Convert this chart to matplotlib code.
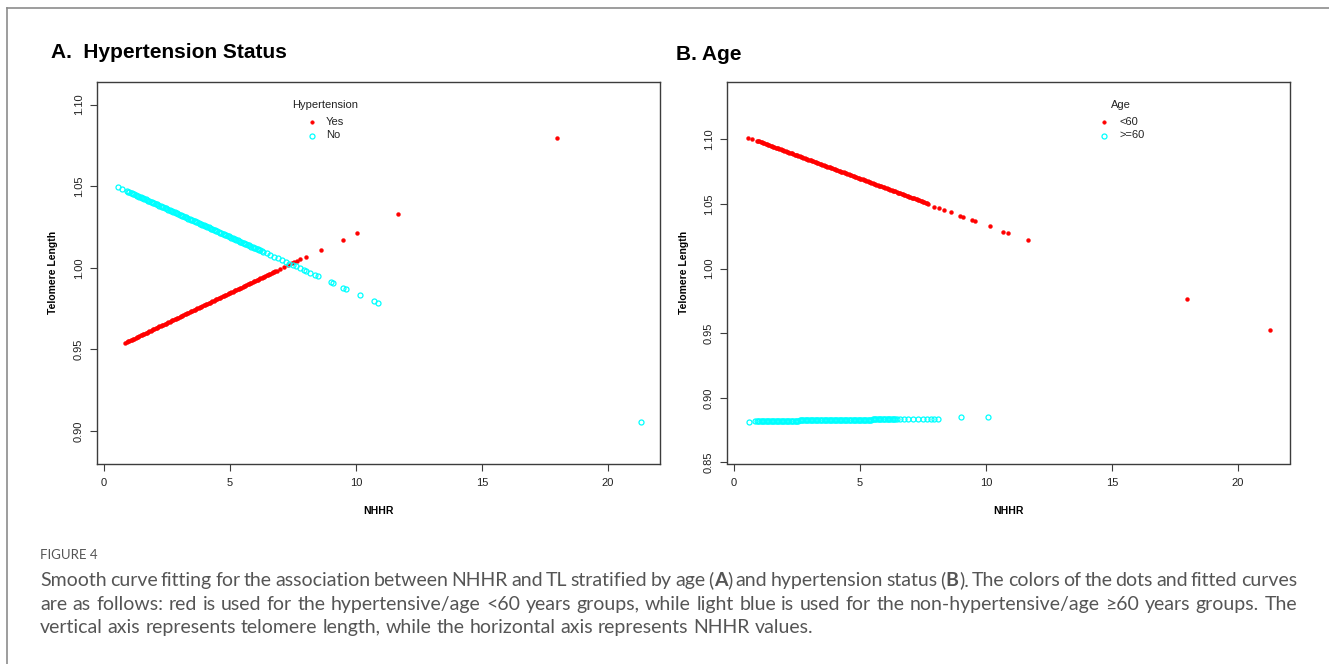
import matplotlib
matplotlib.use('Agg')
import matplotlib.pyplot as plt
from matplotlib.lines import Line2D

plt.rcParams['font.family'] = ['Liberation Sans', 'DejaVu Sans']

RED = '#ff0000'
CYAN = '#00ffff'
AXIS_COLOR = '#3c3c3c'
CAP_COLOR = '#555555'
CAP_FAMILY = ['Lato', 'DejaVu Sans']

# Panel A, hypertension = Yes (red dots); the dense run is listed twice over (offset grid)
hyp_yes_x = [0.85, 0.95, 1.05, 1.15, 1.25, 1.35, 1.45, 1.55, 1.65, 1.75,
             1.85, 1.95, 2.05, 2.15, 2.25, 2.35, 2.45, 2.55, 2.65, 2.75,
             2.85, 2.95, 3.05, 3.15, 3.25, 3.35, 3.45, 3.55, 3.65, 3.75,
             3.85, 3.95, 4.05, 4.15, 4.25, 4.35, 4.45, 4.55, 4.65, 4.75,
             4.85, 4.95, 5.05, 5.15, 5.25, 5.35, 5.45, 5.55, 5.65, 5.75,
             5.85, 5.95, 6.05, 6.15, 6.25, 6.35, 6.45, 6.55, 6.65, 6.75,
             6.85, 7.0, 7.15, 7.3, 7.45, 7.55, 7.65, 7.78, 8.02, 8.6,
             9.49, 10.04, 11.65, 17.99,
             0.9, 1.0, 1.1, 1.2, 1.3, 1.4, 1.5, 1.6, 1.7, 1.8,
             1.9, 2.0, 2.1, 2.2, 2.3, 2.4, 2.5, 2.6, 2.7, 2.8,
             2.9, 3.0, 3.1, 3.2, 3.3, 3.4, 3.5, 3.6, 3.7, 3.8,
             3.9, 4.0, 4.1, 4.2, 4.3, 4.4, 4.5, 4.6, 4.7, 4.8,
             4.9, 5.0, 5.1, 5.2, 5.3, 5.4, 5.5, 5.6, 5.7, 5.8,
             5.9, 6.0, 6.1, 6.2, 6.3, 6.4, 6.5, 6.6, 6.7, 6.8]
hyp_yes_y = [0.9540, 0.9548, 0.9555, 0.9563, 0.9570, 0.9577, 0.9585, 0.9592, 0.9599, 0.9607,
             0.9614, 0.9622, 0.9629, 0.9636, 0.9644, 0.9651, 0.9658, 0.9666, 0.9673, 0.9680,
             0.9688, 0.9695, 0.9703, 0.9710, 0.9717, 0.9725, 0.9732, 0.9739, 0.9747, 0.9754,
             0.9762, 0.9769, 0.9776, 0.9784, 0.9791, 0.9798, 0.9806, 0.9813, 0.9820, 0.9828,
             0.9835, 0.9843, 0.9850, 0.9857, 0.9865, 0.9872, 0.9879, 0.9887, 0.9894, 0.9902,
             0.9909, 0.9916, 0.9924, 0.9931, 0.9938, 0.9946, 0.9953, 0.9960, 0.9968, 0.9975,
             0.9983, 0.9994, 1.0005, 1.0016, 1.0027, 1.0034, 1.0042, 1.0051, 1.0067, 1.0108,
             1.0169, 1.0212, 1.0329, 1.0794,
             0.9544, 0.9552, 0.9559, 0.9566, 0.9574, 0.9581, 0.9588, 0.9596, 0.9603, 0.9610,
             0.9618, 0.9625, 0.9633, 0.9640, 0.9647, 0.9655, 0.9662, 0.9669, 0.9677, 0.9684,
             0.9692, 0.9699, 0.9706, 0.9714, 0.9721, 0.9728, 0.9736, 0.9743, 0.9751, 0.9758,
             0.9765, 0.9773, 0.9780, 0.9787, 0.9795, 0.9802, 0.9810, 0.9817, 0.9824, 0.9832,
             0.9839, 0.9846, 0.9854, 0.9861, 0.9868, 0.9876, 0.9883, 0.9891, 0.9898, 0.9905,
             0.9913, 0.9920, 0.9927, 0.9935, 0.9942, 0.9950, 0.9957, 0.9964, 0.9972, 0.9979]

# Panel A, hypertension = No (cyan circles)
hyp_no_x = [0.56, 0.72, 0.9, 1.0, 1.1, 1.2, 1.3, 1.4, 1.5, 1.6,
            1.7, 1.8, 1.9, 2.0, 2.1, 2.2, 2.3, 2.4, 2.5, 2.6,
            2.7, 2.8, 2.9, 3.0, 3.1, 3.2, 3.3, 3.4, 3.5, 3.6,
            3.7, 3.8, 3.9, 4.0, 4.1, 4.2, 4.3, 4.4, 4.5, 4.6,
            4.7, 4.8, 4.9, 5.0, 5.1, 5.2, 5.3, 5.4, 5.5, 5.6,
            5.7, 5.8, 5.9, 6.0, 6.1, 6.2, 6.3, 6.45, 6.6, 6.75,
            6.9, 7.05, 7.2, 7.35, 7.5, 7.62, 7.76, 7.92, 8.03, 8.16,
            8.39, 8.5, 8.99, 9.1, 9.49, 9.6, 10.16, 10.71, 10.87, 21.29,
            0.95, 1.05, 1.15, 1.25, 1.35, 1.45, 1.55, 1.65, 1.75, 1.85,
            1.95, 2.05, 2.15, 2.25, 2.35, 2.45, 2.55, 2.65, 2.75, 2.85,
            2.95, 3.05, 3.15, 3.25, 3.35, 3.45, 3.55, 3.65, 3.75, 3.85,
            3.95, 4.05, 4.15, 4.25, 4.35, 4.45, 4.55, 4.65, 4.75, 4.85,
            4.95, 5.05, 5.15, 5.25, 5.35, 5.45, 5.55, 5.65, 5.75, 5.85,
            5.95, 6.05, 6.15, 6.25]
hyp_no_y = [1.0496, 1.0484, 1.0470, 1.0463, 1.0457, 1.0450, 1.0443, 1.0436, 1.0429, 1.0422,
            1.0415, 1.0408, 1.0401, 1.0395, 1.0388, 1.0381, 1.0374, 1.0367, 1.0360, 1.0353,
            1.0346, 1.0340, 1.0333, 1.0326, 1.0319, 1.0312, 1.0305, 1.0298, 1.0291, 1.0285,
            1.0278, 1.0271, 1.0264, 1.0257, 1.0250, 1.0243, 1.0236, 1.0230, 1.0223, 1.0216,
            1.0209, 1.0202, 1.0195, 1.0188, 1.0181, 1.0174, 1.0168, 1.0161, 1.0154, 1.0147,
            1.0140, 1.0133, 1.0126, 1.0119, 1.0113, 1.0106, 1.0099, 1.0088, 1.0078, 1.0068,
            1.0058, 1.0047, 1.0037, 1.0026, 1.0016, 1.0008, 0.9998, 0.9987, 0.9980, 0.9971,
            0.9955, 0.9947, 0.9914, 0.9906, 0.9879, 0.9872, 0.9833, 0.9795, 0.9784, 0.9053,
            1.0467, 1.0460, 1.0453, 1.0446, 1.0439, 1.0432, 1.0426, 1.0419, 1.0412, 1.0405,
            1.0398, 1.0391, 1.0384, 1.0377, 1.0370, 1.0364, 1.0357, 1.0350, 1.0343, 1.0336,
            1.0329, 1.0322, 1.0315, 1.0309, 1.0302, 1.0295, 1.0288, 1.0281, 1.0274, 1.0267,
            1.0260, 1.0254, 1.0247, 1.0240, 1.0233, 1.0226, 1.0219, 1.0212, 1.0205, 1.0199,
            1.0192, 1.0185, 1.0178, 1.0171, 1.0164, 1.0157, 1.0150, 1.0143, 1.0137, 1.0130,
            1.0123, 1.0116, 1.0109, 1.0102]

# Panel B, age < 60 (red dots)
age_lt60_x = [0.55, 0.73, 0.9, 1.0, 1.1, 1.2, 1.3, 1.4, 1.5, 1.6,
              1.7, 1.8, 1.9, 2.0, 2.1, 2.2, 2.3, 2.4, 2.5, 2.6,
              2.7, 2.8, 2.9, 3.0, 3.1, 3.2, 3.3, 3.4, 3.5, 3.6,
              3.7, 3.8, 3.9, 4.0, 4.1, 4.2, 4.3, 4.4, 4.5, 4.6,
              4.7, 4.8, 4.9, 5.0, 5.1, 5.2, 5.3, 5.4, 5.5, 5.6,
              5.7, 5.8, 5.9, 6.0, 6.1, 6.2, 6.3, 6.4, 6.5, 6.6,
              6.7, 6.8, 6.9, 7.0, 7.1, 7.2, 7.3, 7.4, 7.5, 7.6,
              7.7, 7.95, 8.15, 8.35, 8.59, 8.95, 9.1, 9.45, 9.58, 10.15,
              10.68, 10.87, 11.65, 17.97, 21.25,
              0.95, 1.05, 1.15, 1.25, 1.35, 1.45, 1.55, 1.65, 1.75, 1.85,
              1.95, 2.05, 2.15, 2.25, 2.35, 2.45, 2.55, 2.65, 2.75, 2.85,
              2.95, 3.05, 3.15, 3.25, 3.35, 3.45, 3.55, 3.65, 3.75, 3.85,
              3.95, 4.05, 4.15, 4.25, 4.35, 4.45, 4.55, 4.65, 4.75, 4.85,
              4.95, 5.05, 5.15, 5.25, 5.35, 5.45, 5.55, 5.65, 5.75, 5.85,
              5.95, 6.05, 6.15, 6.25, 6.35, 6.45, 6.55, 6.65, 6.75, 6.85,
              6.95, 7.05, 7.15, 7.25, 7.35, 7.45, 7.55, 7.65]
age_lt60_y = [1.1013, 1.1000, 1.0990, 1.0983, 1.0976, 1.0969, 1.0961, 1.0954, 1.0947, 1.0940,
              1.0933, 1.0925, 1.0918, 1.0911, 1.0904, 1.0897, 1.0890, 1.0882, 1.0875, 1.0868,
              1.0861, 1.0854, 1.0847, 1.0839, 1.0832, 1.0825, 1.0818, 1.0811, 1.0804, 1.0796,
              1.0789, 1.0782, 1.0775, 1.0768, 1.0761, 1.0753, 1.0746, 1.0739, 1.0732, 1.0725,
              1.0718, 1.0710, 1.0703, 1.0696, 1.0689, 1.0682, 1.0675, 1.0667, 1.0660, 1.0653,
              1.0646, 1.0639, 1.0632, 1.0624, 1.0617, 1.0610, 1.0603, 1.0596, 1.0588, 1.0581,
              1.0574, 1.0567, 1.0560, 1.0553, 1.0545, 1.0538, 1.0531, 1.0524, 1.0517, 1.0510,
              1.0502, 1.0477, 1.0472, 1.0451, 1.0438, 1.0407, 1.0400, 1.0374, 1.0366, 1.0327,
              1.0284, 1.0276, 1.0219, 0.9763, 0.9528,
              1.0986, 1.0979, 1.0972, 1.0965, 1.0958, 1.0951, 1.0943, 1.0936, 1.0929, 1.0922,
              1.0915, 1.0908, 1.0900, 1.0893, 1.0886, 1.0879, 1.0872, 1.0865, 1.0857, 1.0850,
              1.0843, 1.0836, 1.0829, 1.0822, 1.0814, 1.0807, 1.0800, 1.0793, 1.0786, 1.0779,
              1.0771, 1.0764, 1.0757, 1.0750, 1.0743, 1.0736, 1.0728, 1.0721, 1.0714, 1.0707,
              1.0700, 1.0693, 1.0685, 1.0678, 1.0671, 1.0664, 1.0657, 1.0650, 1.0642, 1.0635,
              1.0628, 1.0621, 1.0614, 1.0607, 1.0599, 1.0592, 1.0585, 1.0578, 1.0571, 1.0563,
              1.0556, 1.0549, 1.0542, 1.0535, 1.0528, 1.0520, 1.0513, 1.0506]

# Panel B, age >= 60 (cyan circles)
age_ge60_x = [0.58, 0.85, 0.95, 1.05, 1.15, 1.25, 1.35, 1.45, 1.55, 1.65,
              1.75, 1.85, 1.95, 2.05, 2.15, 2.25, 2.35, 2.45, 2.55, 2.65,
              2.75, 2.85, 2.95, 3.05, 3.15, 3.25, 3.35, 3.45, 3.55, 3.65,
              3.75, 3.85, 3.95, 4.05, 4.15, 4.25, 4.35, 4.45, 4.55, 4.65,
              4.75, 4.85, 4.95, 5.05, 5.15, 5.25, 5.35, 5.45, 5.55, 5.65,
              5.75, 5.85, 5.95, 6.05, 6.15, 6.25, 6.35, 6.45, 6.6, 6.75,
              6.9, 7.1, 7.3, 7.5, 7.65, 7.8, 7.95, 8.1, 8.99, 10.07,
              0.9, 1.0, 1.1, 1.2, 1.3, 1.4, 1.5, 1.6, 1.7, 1.8,
              1.9, 2.0, 2.1, 2.2, 2.3, 2.4, 2.5, 2.6, 2.7, 2.8,
              2.9, 3.0, 3.1, 3.2, 3.3, 3.4, 3.5, 3.6, 3.7, 3.8,
              3.9, 4.0, 4.1, 4.2, 4.3, 4.4, 4.5, 4.6, 4.7, 4.8,
              4.9, 5.0, 5.1, 5.2, 5.3, 5.4, 5.5, 5.6, 5.7, 5.8,
              5.9, 6.0, 6.1, 6.2, 6.3, 6.4]
age_ge60_y = [0.8814, 0.8822, 0.8822, 0.8822, 0.8822, 0.8822, 0.8822, 0.8822, 0.8822, 0.8822,
              0.8823, 0.8823, 0.8823, 0.8823, 0.8823, 0.8823, 0.8823, 0.8823, 0.8823, 0.8826,
              0.8826, 0.8826, 0.8826, 0.8826, 0.8826, 0.8826, 0.8826, 0.8826, 0.8826, 0.8827,
              0.8827, 0.8827, 0.8827, 0.8827, 0.8827, 0.8827, 0.8827, 0.8827, 0.8831, 0.8831,
              0.8831, 0.8831, 0.8831, 0.8831, 0.8831, 0.8831, 0.8831, 0.8831, 0.8833, 0.8833,
              0.8833, 0.8833, 0.8833, 0.8833, 0.8833, 0.8833, 0.8833, 0.8833, 0.8838, 0.8838,
              0.8839, 0.8839, 0.8839, 0.8840, 0.8840, 0.8840, 0.8840, 0.8840, 0.8848, 0.8848,
              0.8822, 0.8822, 0.8822, 0.8822, 0.8822, 0.8822, 0.8822, 0.8822, 0.8823, 0.8823,
              0.8823, 0.8823, 0.8823, 0.8823, 0.8823, 0.8823, 0.8823, 0.8826, 0.8826, 0.8826,
              0.8826, 0.8826, 0.8826, 0.8826, 0.8826, 0.8826, 0.8826, 0.8826, 0.8827, 0.8827,
              0.8827, 0.8827, 0.8827, 0.8827, 0.8827, 0.8827, 0.8831, 0.8831, 0.8831, 0.8831,
              0.8831, 0.8831, 0.8831, 0.8831, 0.8831, 0.8831, 0.8833, 0.8833, 0.8833, 0.8833,
              0.8833, 0.8833, 0.8833, 0.8833, 0.8833, 0.8833]

x_ticks = [0, 5, 10, 15, 20]
a_y_ticks = [0.90, 0.95, 1.00, 1.05, 1.10]
b_y_ticks = [0.85, 0.90, 0.95, 1.00, 1.05, 1.10]
x_lim = (-0.28, 22.06)
a_y_lim = (0.880, 1.1139)
b_y_lim = (0.8492, 1.1443)

title_a = 'A.  Hypertension Status'
title_b = 'B. Age'
legend_a = ('Hypertension', 'Yes', 'No')
legend_b = ('Age', '<60', '>=60')

caption_head = 'FIGURE 4'
caption_lines = [
    'Smooth curve fitting for the association between NHHR and TL stratified by age (A) and hypertension status (B). The colors of the dots and fitted curves',
    'are as follows: red is used for the hypertensive/age <60 years groups, while light blue is used for the non-hypertensive/age \u226560 years groups. The',
    'vertical axis represents telomere length, while the horizontal axis represents NHHR values.',
]

W, H = 1329, 664
fig = plt.figure(figsize=(W / 100, H / 100), dpi=100)
fig.patch.set_facecolor('white')


def fx(x):
    return x / W


def fy(y):
    return 1 - y / H


def axes_px(left, top, right, bottom):
    return fig.add_axes([fx(left), fy(bottom), (right - left) / W, (bottom - top) / H])


def style(ax, yticks, ylim):
    ax.set_xlim(*x_lim)
    ax.set_ylim(*ylim)
    ax.set_xticks(x_ticks)
    ax.set_xticklabels([str(t) for t in x_ticks])
    ax.set_yticks(yticks)
    ax.set_yticklabels(['%.2f' % t for t in yticks], rotation=90, va='center')
    for sp in ax.spines.values():
        sp.set_color(AXIS_COLOR)
        sp.set_linewidth(1.0)
    ax.tick_params(direction='out', length=5, width=0.8, color=AXIS_COLOR,
                   labelsize=8, labelcolor='#222222')
    ax.tick_params(axis='x', pad=5.5)
    ax.tick_params(axis='y', pad=4.5)
    ax.set_xlabel('NHHR', fontsize=7.5, fontweight='bold')
    ax.set_ylabel('Telomere Length', fontsize=7.5, fontweight='bold')
    ax.xaxis.set_label_coords(0.5, -0.112)


def dots(ax, xs, ys, color):
    ax.plot(xs, ys, linestyle='none', marker='o', ms=2.8, mfc=color, mec=color, mew=0.3)


def rings(ax, xs, ys, color):
    ax.plot(xs, ys, linestyle='none', marker='o', ms=3.6, mfc='none', mec=color, mew=0.9)


ax_a = axes_px(97, 82, 660, 463.5)
ax_b = axes_px(727, 82, 1290, 463.5)

dots(ax_a, hyp_yes_x, hyp_yes_y, RED)
rings(ax_a, hyp_no_x, hyp_no_y, CYAN)
style(ax_a, a_y_ticks, a_y_lim)
ax_a.yaxis.set_label_coords(-0.069, 0.5)

dots(ax_b, age_lt60_x, age_lt60_y, RED)
rings(ax_b, age_ge60_x, age_ge60_y, CYAN)
style(ax_b, b_y_ticks, b_y_lim)
ax_b.yaxis.set_label_coords(-0.067, 0.5)

fig.text(fx(51), fy(52), title_a, fontsize=15, fontweight='bold', va='center')
fig.text(fx(676), fy(55), title_b, fontsize=15, fontweight='bold', va='center')


def legend(title, labels, title_cx, mark_x, text_x):
    fig.text(fx(title_cx), fy(105), title, fontsize=8, ha='center', va='center', color='#222222')
    rows = [(labels[0], RED, 122), (labels[1], CYAN, 135.5)]
    for label, color, y in rows:
        if color == RED:
            m = Line2D([fx(mark_x)], [fy(y)], transform=fig.transFigure, linestyle='none',
                       marker='o', ms=2.6, mfc=color, mec=color, mew=0.3)
        else:
            m = Line2D([fx(mark_x)], [fy(y)], transform=fig.transFigure, linestyle='none',
                       marker='o', ms=3.6, mfc='none', mec=color, mew=0.9)
        fig.add_artist(m)
        fig.text(fx(text_x), fy(y), label, fontsize=8, va='center', color='#222222')


legend(legend_a[0], legend_a[1:], 325, 312, 326)
legend(legend_b[0], legend_b[1:], 1121, 1104, 1119)

# page frame lines
fig.add_artist(Line2D([fx(7), 1], [fy(8), fy(8)], transform=fig.transFigure, color='#8c8c8c', lw=1.2))
fig.add_artist(Line2D([fx(7), fx(7)], [fy(8), 0], transform=fig.transFigure, color='#8c8c8c', lw=1.2))

# caption, justified like the journal layout (word by word)
renderer = fig.canvas.get_renderer()


def measure(s, size, weight='normal'):
    t = fig.text(0, 0, s, fontsize=size, fontweight=weight, family=CAP_FAMILY)
    w = t.get_window_extent(renderer).width
    t.remove()
    return w


base = 12
cap_size = base * 772 / measure(caption_lines[2], base)
space_w = measure('x x', cap_size) - measure('xx', cap_size)


def split_word(word):
    for letter in ('A', 'B'):
        key = '(' + letter + ')'
        if word.startswith(key):
            return [('(', 'normal'), (letter, 'bold'), (word[2:], 'normal')]
    return [(word, 'normal')]


def draw_line(baseline, line, target=None):
    words = [split_word(w) for w in line.split(' ')]
    placed = []
    total = 0
    for word in words:
        segs = []
        for s, wt in word:
            t = fig.text(0, fy(baseline), s, fontsize=cap_size, fontweight=wt, color=CAP_COLOR,
                         va='baseline', family=CAP_FAMILY)
            segs.append((t, t.get_window_extent(renderer).width))
        placed.append(segs)
        total += sum(b for _, b in segs)
    gap = space_w if target is None else (target - total) / (len(words) - 1)
    x = 40
    for segs in placed:
        for t, bw in segs:
            t.set_x(fx(x))
            x += bw
        x += gap


fig.text(fx(40), fy(555), caption_head, fontsize=9.5, color=CAP_COLOR, va='center', family=CAP_FAMILY)
# baselines kept off the half pixel so every word rounds to the same row
draw_line(586.2, caption_lines[0], 1257)
draw_line(609.8, caption_lines[1], 1257)
draw_line(633.2, caption_lines[2])

fig.savefig('out.png', dpi=100)
